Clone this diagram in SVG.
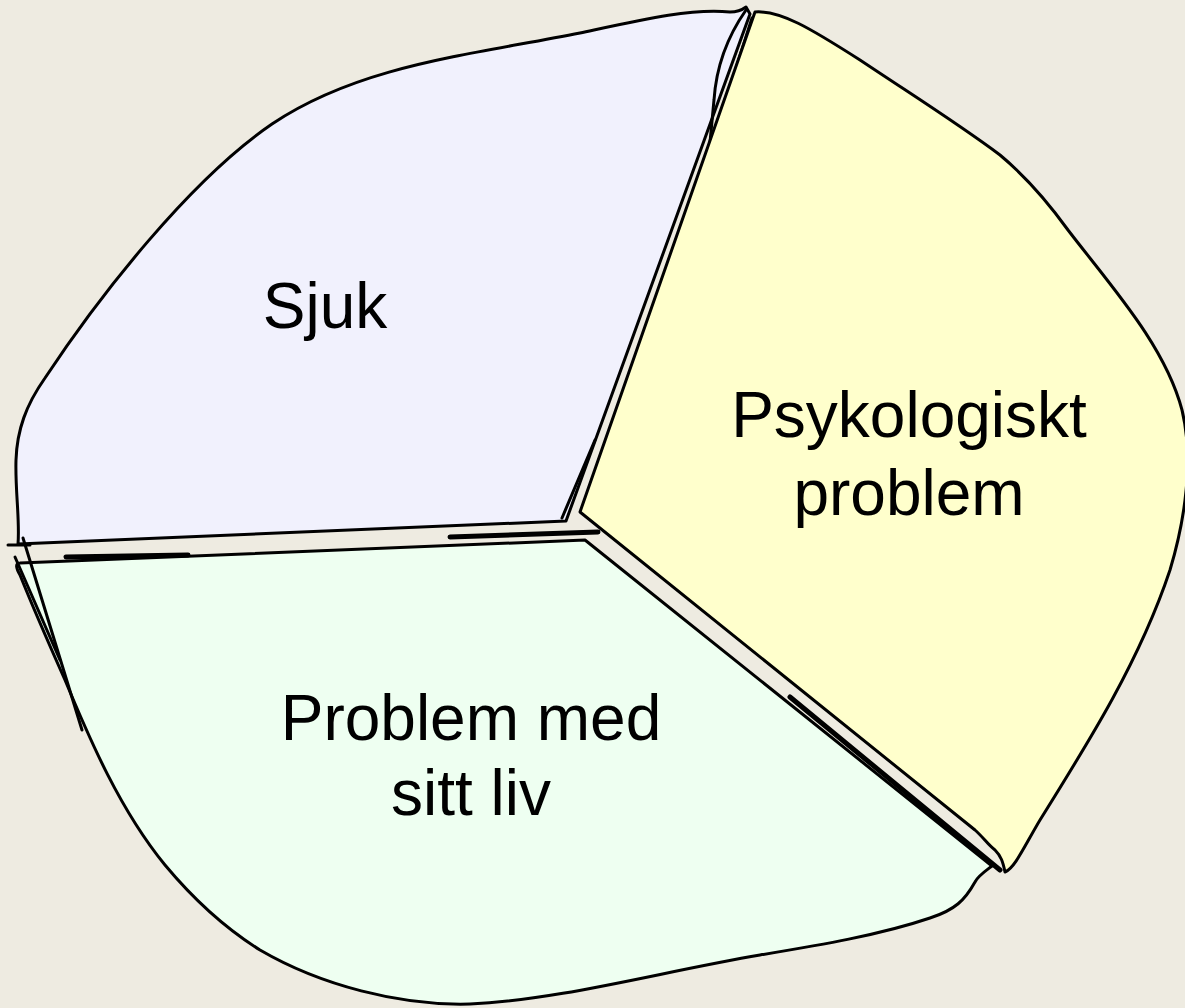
<svg xmlns="http://www.w3.org/2000/svg" width="1185" height="1008" viewBox="0 0 1185 1008">
  <style>
    .edge { stroke: #000; stroke-width: 3; stroke-linejoin: round; stroke-linecap: round; }
    .sketch { fill: none; stroke: #000; stroke-width: 3; stroke-linecap: round; }
    .heavy { fill: none; stroke: #000; stroke-width: 5; stroke-linecap: round; }
    .label { font-family: "Comic Sans MS", "Liberation Sans", "DejaVu Sans", sans-serif; font-size: 64px; fill: #000; text-anchor: middle; }
  </style>
  <rect width="1185" height="1008" fill="#EEEBE1"/>

  <!-- Slice: Sjuk -->
  <g id="slice-sjuk">
    <path class="edge" fill="#F1F1FD" d="M 18,544 C 20,520 15,490 16,460 C 17,430 26,405 45,378 C 100,295 190,180 272,124 C 360,65 470,55 580,33 C 640,20 690,8 730,12 C 738,12 742,10 746,7 L 750,14 L 566,521 Z"/>
    <path class="sketch" d="M 8,545 L 30,545"/>
    <path class="sketch" d="M 746,10 C 725,40 716,70 714,100 L 709,153"/>
    <path class="sketch" d="M 752,18 L 709,153"/>
    <path class="sketch" d="M 595,440 L 562,518"/>
  </g>

  <!-- Slice: Psykologiskt problem -->
  <g id="slice-psykologiskt">
    <path class="edge" fill="#FFFFCC" d="M 580,512 L 755,12 C 780,10 810,28 860,60 C 920,100 960,125 1000,155 C 1030,180 1050,205 1068,230 C 1110,285 1165,345 1182,410 C 1194,460 1185,520 1170,570 C 1140,660 1090,740 1040,820 C 1025,845 1015,868 1005,872 C 1003,862 1001,856 995,850 C 988,845 984,838 975,830 Z"/>
  </g>

  <!-- Slice: Problem med sitt liv -->
  <g id="slice-problem">
    <path class="edge" fill="#EEFFF1" d="M 20,563 L 585,540 L 992,866 C 984,872 978,876 975,882 C 965,900 955,910 930,918 C 880,935 820,945 760,955 C 660,972 560,1000 470,1004 C 400,1006 320,985 260,950 C 220,925 190,895 165,865 C 120,810 90,740 65,680 C 45,635 28,595 20,575 C 16,568 15,563 20,563 Z"/>
    <path class="heavy" d="M 66,557 L 188,555"/>
    <path class="heavy" d="M 450,537 L 598,532"/>
    <path class="sketch" d="M 15,557 L 60,660"/>
    <path class="sketch" d="M 23,538 L 82,730"/>
    <path class="heavy" d="M 790,697 L 1000,870"/>
  </g>

  <!-- Labels -->
  <g id="labels">
    <text class="label" x="325" y="328">Sjuk</text>
    <text class="label" x="909" y="437">Psykologiskt</text>
    <text class="label" x="909" y="515">problem</text>
    <text class="label" x="471" y="740">Problem med</text>
    <text class="label" x="471" y="815">sitt liv</text>
  </g>
</svg>
